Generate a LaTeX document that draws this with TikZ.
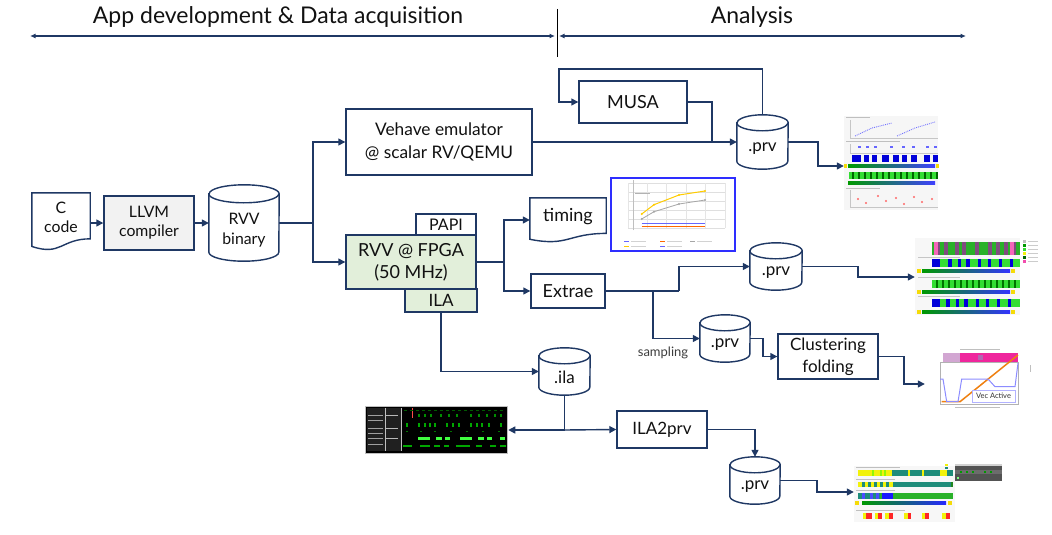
\documentclass[tikz,border=0pt]{standalone}
\usepackage{fontspec}
\setmainfont{Lato}
\usetikzlibrary{arrows.meta,calc}
\definecolor{navy}{HTML}{1F3864}
\definecolor{fpga}{HTML}{E2EFDA}
\definecolor{txt}{HTML}{111111}
\definecolor{lgray}{HTML}{F2F2F2}
\definecolor{samp}{HTML}{3D3D3D}
\definecolor{chartblue}{HTML}{2E2EFF}
\definecolor{tracegreen}{HTML}{33DD33}
\definecolor{teal2}{HTML}{1E8C7A}
\definecolor{ylw}{HTML}{F2F20A}
\tikzset{
  box/.style={draw=navy, line width=1.4pt, fill=white, inner sep=0pt, align=center, text=txt},
  ghost/.style={inner sep=0pt, draw=none},
  lbl/.style={inner sep=0pt, align=center, text=txt},
  wire/.style={draw=navy, line width=1.4pt},
  conn/.style={wire, -{Triangle[length=7pt,width=7pt]}},
  cylline/.style={draw=navy, line width=1.4pt, fill=white},
  harrow/.style={draw=navy, line width=1.2pt, {Latex[length=5.5pt,width=5pt]}-{Latex[length=5.5pt,width=5pt]}},
  tA/.style={font=\fontsize{15.8}{19}\selectfont},
  tB/.style={font=\fontsize{18}{22}\selectfont},
  tC/.style={font=\fontsize{17}{22}\selectfont},
  pic/.style={inner sep=0pt, draw=none},
}
\newcommand\mycyl[3]{%
  \draw[cylline] ([yshift=-#3pt]#1.north west) -- ([yshift=#3pt]#1.south west)
    arc[start angle=180,end angle=360,x radius=#2pt,y radius=#3pt]
    -- ([yshift=-#3pt]#1.north east)
    arc[start angle=0,end angle=180,x radius=#2pt,y radius=#3pt] -- cycle;
  \draw[cylline, fill=none] ([yshift=-#3pt]#1.north west)
    arc[start angle=180,end angle=360,x radius=#2pt,y radius=#3pt];}
\newcommand\mydoc[1]{%
  \draw[cylline] (#1.north west) -- (#1.north east)
    -- ($(#1.north east)!0.802!(#1.south east)$)
    .. controls ($(#1.north)!0.802!(#1.south)$) and ($(#1.north)!1.107!(#1.south)$)
    .. ($(#1.north west)!0.934!(#1.south west)$) -- cycle;}
\begin{document}
\begin{tikzpicture}[x=1pt,y=-1pt]
\useasboundingbox (0,0) rectangle (1052,535);
% ---------------- header
\node[lbl, font=\fontsize{23}{26}\selectfont] (h1) at (278,17) {App development \& Data acquisition};
\node[lbl, font=\fontsize{23}{26}\selectfont] (h2) at (752,17) {Analysis};
\coordinate (a0) at (30,36); \coordinate (a1) at (555,36);
\coordinate (a2) at (559,36); \coordinate (a3) at (966,36);
\draw[harrow] (a0) -- (a1);
\draw[harrow] (a2) -- (a3);
\coordinate (d0) at (557,9); \coordinate (d1) at (557,57);
\draw[black, line width=0.7pt] (d0) -- (d1);
% ---------------- left chain
\node[ghost, minimum width=58pt, minimum height=57pt] (ccode) at (61,221.5) {};
\mydoc{ccode}
\node[lbl, tA] (ccodet) at (61,217) {C\\code};
\node[box, fill=lgray, minimum width=90pt, minimum height=54pt, tA] (llvm) at (149,223) {LLVM\\compiler};
\node[ghost, minimum width=70pt, minimum height=76pt] (rvvbin) at (244,223) {};
\mycyl{rvvbin}{35}{9}
\node[lbl, font=\fontsize{15.8}{20}\selectfont] (rvvbint) at (244,230) {RVV\\binary};
\draw[conn] (ccode.east |- llvm.west) -- (llvm.west);
\draw[conn] (llvm.east) -- (rvvbin.west);
% ---------------- execution
\node[box, minimum width=186pt, minimum height=66pt, font=\fontsize{17.3}{23}\selectfont] (vehave) at (439,142) {Vehave emulator\\@ scalar RV/QEMU};
\node[box, fill=fpga, minimum width=130pt, minimum height=54pt, font=\fontsize{18}{22}\selectfont] (fpga) at (411,262) {RVV @ FPGA\\(50 MHz)};
\node[box, minimum width=60pt, minimum height=21pt, font=\fontsize{16}{18}\selectfont] (papi) at (446,224.5) {PAPI};
\node[box, fill=fpga, minimum width=72pt, minimum height=23pt, font=\fontsize{17}{19}\selectfont] (ilabox) at (441,300.5) {ILA};
\coordinate (b1) at (313,223);
\draw[wire] (rvvbin.east) -- (b1);
\draw[conn] (b1) |- (vehave.west);
\draw[conn] (b1) |- (fpga.west);
% timing / extrae
\node[ghost, minimum width=76pt, minimum height=44pt] (timing) at (568,220) {};
\mydoc{timing}
\node[lbl, tB] (timingt) at (568,217) {timing};
\node[box, minimum width=74pt, minimum height=34pt, tB] (extrae) at (568,291) {Extrae};
\coordinate (b2) at (504,262);
\draw[wire] (fpga.east) -- (b2);
\draw[conn] (b2) |- (timing.west);
\draw[conn] (b2) |- (extrae.west);
% ---------------- MUSA and top prv
\node[box, minimum width=108pt, minimum height=42pt, tB] (musa) at (633,102) {MUSA};
\node[ghost, minimum width=51pt, minimum height=54pt] (prvA) at (762.5,142) {};
\mycyl{prvA}{25.5}{8}
\node[lbl, tC] (prvAt) at (762.5,149) {.prv};
\draw[conn] (vehave.east) -- (prvA.west);
\coordinate (m1) at (712,142);
\draw[wire] (musa.east) -| (m1);
\coordinate (l1) at (559,69);
\draw[conn] (prvA.north) |- (l1) |- (musa.west);
% ---------------- Extrae outputs
\node[ghost, minimum width=52pt, minimum height=47pt] (prvB) at (776,266.5) {};
\mycyl{prvB}{26}{8}
\node[lbl, tC] (prvBt) at (776,273) {.prv};
\node[ghost, minimum width=50pt, minimum height=47pt] (prvC) at (725,338.5) {};
\mycyl{prvC}{25}{8}
\node[lbl, tC] (prvCt) at (725,345) {.prv};
\node[box, minimum width=100pt, minimum height=45pt, font=\fontsize{17}{22}\selectfont] (clust) at (828,356.5) {Clustering\\folding};
\node[lbl, text=samp, font=\fontsize{13}{15}\selectfont] (samp) at (663,353) {sampling};
\coordinate (e1) at (679,291); \coordinate (e2) at (653,291);
\draw[wire] (extrae.east) -- (e1);
\draw[conn] (e1) |- (prvB.west);
\draw[conn] (e2) |- (prvC.west);
\coordinate (c1) at (763,338.5);
\draw[conn] (prvC.east) -- (c1) |- (clust.west);
% ---------------- ILA path
\node[ghost, minimum width=51pt, minimum height=47pt] (ilacyl) at (564.5,371.5) {};
\mycyl{ilacyl}{25.5}{8}
\node[lbl, tC] (ilacylt) at (564.5,377) {.ila};
\node[box, minimum width=90pt, minimum height=37pt, tC] (ila2prv) at (662,429.5) {ILA2prv};
\node[ghost, minimum width=50pt, minimum height=47pt] (prvD) at (755,480.5) {};
\mycyl{prvD}{25}{8}
\node[lbl, tC] (prvDt) at (755,487) {.prv};
\draw[conn] (ilabox.south) |- (ilacyl.west);
\coordinate (i1) at (564.5,430);
\draw[wire] (ilacyl.south) -- (i1);
\draw[conn] (i1) -- (ila2prv.west);
\draw[conn] (ila2prv.east) -| (prvD.north);
% ================= pictures (screenshots)
% chart
\node[pic, draw=chartblue, line width=1.2pt, fill=white, minimum width=124pt, minimum height=73pt] (chart) at (673,214.5) {};
\foreach \yy in {183,192,201,210,219,228} \draw[gray!25, line width=0.4pt] (628,\yy) -- (725,\yy);
\foreach \xx in {628,647,666,686,705,725} \draw[gray!20, line width=0.4pt] (\xx,183) -- (\xx,228);
\draw[orange!40!yellow, line width=1pt] (641.7,214) -- (654,204.7) -- (679,195) -- (705,191);
\foreach \p in {(641.7,214),(654,204.7),(679,195),(705,191)} \fill[orange!40!yellow] \p circle (1.2pt);
\draw[gray!70, line width=0.8pt] (641.7,219) -- (654,211.7) -- (679,204) -- (705,200);
\foreach \p in {(641.7,219),(654,211.7),(679,204),(705,200)} \fill[gray!70] \p circle (1.1pt);
\draw[blue!60, line width=0.8pt] (641.7,223.3) -- (705,223.3);
\draw[orange!80!red, line width=0.8pt] (641.7,226) -- (705,226);
\draw[gray!50, line width=0.5pt] (633,230) -- (633,180);
\foreach \x/\c in {624/blue!60,660/orange!80!red,690/gray!70} {\draw[\c, line width=0.8pt] (\x,241) -- (\x+5,241); \draw[gray!35, line width=0.6pt] (\x+7,241) -- (\x+22,241);}
\foreach \x/\c in {624/orange!40!yellow,660/blue!60} {\draw[\c, line width=0.8pt] (\x,246) -- (\x+5,246); \draw[gray!35, line width=0.6pt] (\x+7,246) -- (\x+22,246);}
\draw[gray!60, line width=0.6pt] (635,193) -- (650,193);
% image 1
\node[pic, fill=gray!7, minimum width=94pt, minimum height=94pt] (img1) at (891,163) {};
\draw[gray!45, line width=0.4pt] (850,120) -- (850,138) -- (938,138);
\draw[gray!50, line width=0.5pt] (846,117.5) -- (870,117.5);
\draw[blue!55, line width=0.9pt, densely dotted] (855,136) -- (872,128) -- (892,123);
\draw[blue!55, line width=0.9pt, densely dotted] (897,136) -- (915,128) -- (935,122);
\draw[gray!50, line width=0.5pt] (846,141.5) -- (900,141.5);
\draw[gray!45, line width=0.4pt] (850,144) -- (850,153) -- (938,153);
\foreach \x in {858,866,874,890,902,912,926,934} \fill[blue!60] (\x,146) rectangle (\x+3,148);
\foreach \a/\b in {852/861,864/869,872/877,882/889,893/899,902/907,911/917,924/930,933/938} \fill[blue!85!black] (\a,155) rectangle (\b,162);
\shade[left color=green!60!black, right color=blue!75] (848,164.5) rectangle (935,167.5);
\fill[ylw!80!orange] (844,164) rectangle (847,168);
\fill[ylw!80!orange] (936,164) rectangle (939,168);
\fill[tracegreen] (849,172) rectangle (938,179);
\foreach \x in {852,858,...,936} \fill[green!40!black] (\x,172) rectangle (\x+1.5,179);
\shade[left color=green!60!black, right color=blue!75] (848,181.5) rectangle (935,184);
\draw[gray!50, line width=0.5pt] (846,188) -- (880,188);
\draw[gray!45, line width=0.4pt] (850,190) -- (850,207) -- (938,207);
\foreach \p in {(858,199),(866,203),(878,196),(886,201),(896,198),(904,204),(914,197),(922,202),(932,199)} \fill[red!60] \p circle (1.2pt);
% image 2
\node[pic, fill=gray!6, minimum width=105pt, minimum height=77pt] (img2) at (967.5,276.5) {};
\fill[tracegreen!80!black] (932,242) rectangle (1020,255);
\foreach \x in {936,944,955,962,975,988,996,1004,1012} \fill[violet!40!gray] (\x,242) rectangle (\x+4,255);
\fill[magenta!60] (934,242) rectangle (938,255);
\fill[magenta!60] (1010,242) rectangle (1014,255);
\foreach \yy/\c in {240/gray!50,244/green!60!black,248/tracegreen,252/ylw,256/green!40!black,260/magenta!70} {\fill[\c] (1023,\yy) rectangle (1026,\yy+2.5); \draw[gray!40, line width=0.5pt] (1028,\yy+1.2) -- (1038,\yy+1.2);}
\draw[gray!45, line width=0.5pt] (918,257) -- (960,257);
\fill[tracegreen] (932,259) rectangle (1020,267);
\foreach \a/\b in {932/940,948/952,958/961,966/970,978/981,988/991,999/1002,1010/1013} \fill[blue!85!black] (\a,259) rectangle (\b,267);
\shade[left color=green!60!black, right color=blue!80] (922,269.5) rectangle (1010,272.5);
\fill[ylw!80!orange] (917,269) rectangle (921,273);
\fill[ylw!80!orange] (1011,269) rectangle (1015,273);
\draw[gray!45, line width=0.5pt] (918,277) -- (960,277);
\fill[tracegreen] (932,280) rectangle (1020,288);
\foreach \x in {936,942,...,1018} \fill[green!45!black] (\x,280) rectangle (\x+2,288);
\shade[left color=green!60!black, right color=blue!80] (922,290.5) rectangle (1010,293.5);
\fill[ylw!80!orange] (917,290) rectangle (921,294);
\fill[ylw!80!orange] (1011,290) rectangle (1015,294);
\draw[gray!45, line width=0.5pt] (918,296) -- (960,296);
\fill[tracegreen] (932,299) rectangle (1020,307);
\foreach \a/\b in {932/940,946/950,956/959,964/968,976/979,986/989,997/1000,1008/1011} \fill[blue!85!black] (\a,299) rectangle (\b,307);
\shade[left color=green!60!black, right color=blue!80] (922,310.5) rectangle (1010,313.5);
\fill[ylw!80!orange] (917,310) rectangle (921,314);
\fill[ylw!80!orange] (1011,310) rectangle (1015,314);
% image 3
\node[pic, fill=white, minimum width=103pt, minimum height=62pt] (img3) at (981.5,379) {};
\draw[gray!50, line width=0.5pt] (960,349.5) -- (1000,349.5);
\fill[violet!35] (942.7,353.3) rectangle (960,361.7);
\fill[magenta!85] (960,353.3) rectangle (1018,361.7);
\fill[violet!60] (978,355) rectangle (983,360);
\draw[gray!60, line width=0.4pt] (940,361.7) rectangle (1018,404);
\draw[orange!75!brown, line width=1.5pt] (941.7,401.7) -- (960,401.7) -- (1018,355);
\draw[blue!45, line width=1pt] (940,379) -- (943,379) -- (946.7,401.7) -- (958,401.7) -- (961.7,379) -- (988,379) -- (995,386.7) -- (1015,386.7) -- (1018,363);
\node[pic, draw=blue!30, fill=white, minimum width=43pt, minimum height=12pt, font=\fontsize{7.5}{8}\selectfont, text=black!80] (vecact) at (993.5,396) {Vec Active};
\draw[gray!50, line width=0.5pt] (955,407) -- (1000,407);
\draw[gray!50, line width=0.5pt] (1030,365) -- (1030,372);
% ILA screenshot
\node[pic, fill=black, draw=gray!50, line width=0.5pt, minimum width=142pt, minimum height=47pt] (imgila) at (436,429.5) {};
\fill[gray!25!black] (367,408) rectangle (401,451);
\foreach \yy in {415,420,428,433,438,444} \draw[gray!75, line width=0.8pt] (368,\yy) -- (383,\yy);
\foreach \yy in {415,428,438} \draw[gray!55, line width=0.6pt] (386,\yy) -- (398,\yy);
\draw[gray!50, line width=0.4pt] (385,408) -- (385,451);
\draw[gray!50, line width=0.4pt] (401,408) -- (401,451);
\draw[red!70, line width=0.4pt] (412,408) -- (412,418);
\foreach \x in {404,410,...,504} \fill[green!35!black] (\x,409.5) rectangle (\x+3,411);
\foreach \x in {418,424,430,440,448,456,470,478,486,494,500} \fill[green!55!black] (\x,414) rectangle (\x+2,416.5);
\foreach \x in {406,418,424,429,434,446,452,458,470,476,481,488,500} \fill[green!65!black] (\x,423) rectangle (\x+2,427);
\foreach \x in {406,420,434,450,466,482,498} \fill[green!45!black] (\x,430.5) rectangle (\x+2,432);
\foreach \a/\b in {418/430,436/442,445/450,460/472,478/484,487/492,500/505} \fill[green!75] (\a,436.5) rectangle (\b,439.5);
\foreach \a/\b in {403/412,420/430,434/440,444/449,456/470,476/482,490/496,500/506} \fill[green!65!black] (\a,444.5) rectangle (\b,446.5);
\coordinate (i2) at (imgila.east |- i1);
\draw[conn] (i1) -- ([xshift=1pt]i2);
% image 4
\node[pic, fill=gray!6, minimum width=101pt, minimum height=56pt] (img4) at (904.5,494) {};
\draw[gray!50, line width=0.5pt] (856,467.5) -- (900,467.5);
\fill[ylw] (858.3,470) rectangle (953.3,476);
\foreach \a/\b in {891.7/908.3,909.5/921.7,924/940,946.7/953.3} \fill[teal2] (\a,470) rectangle (\b,476);
\foreach \x in {872,880,884} \fill[ylw!60!green] (\x,470) rectangle (\x+1.5,476);
\draw[gray!50, line width=0.5pt] (856,479) -- (895,479);
\fill[ylw] (858.3,481.7) rectangle (893,486.7);
\foreach \x in {862,868,874,880,886} \fill[teal2] (\x,481.7) rectangle (\x+2.5,486.7);
\fill[teal2] (893,481.7) rectangle (953.3,486.7);
\fill[tracegreen!60!black] (951,481.7) rectangle (953.3,486.7);
\draw[gray!50, line width=0.5pt] (856,490.5) -- (895,490.5);
\fill[tracegreen!80!black] (858.3,493.3) rectangle (953.3,499.3);
\fill[teal2] (858.3,493.3) rectangle (880,499.3);
\foreach \x in {862,870,876} \fill[blue!70] (\x,493.3) rectangle (\x+3,499.3);
\fill[blue!90] (882,493.3) rectangle (893,499.3);
\shade[left color=green!60!black, right color=blue!85] (862,501.5) rectangle (946,504);
\fill[ylw!80!orange] (855,501) rectangle (859,504.5);
\fill[ylw!80!orange] (948,501) rectangle (952,504.5);
\draw[gray!50, line width=0.5pt] (856,510) -- (905,510);
\foreach \a/\b/\c in {863/866/ylw,866/872/red!85,875/878/ylw,878/882/red!85,885/889/ylw,889/893/red!85,904/908/ylw,908/911/red!85,922/925/ylw,925/929/red!85,942/946/ylw,946/950/red!85} \fill[\c] (\a,513.3) rectangle (\b,519.3);
\fill[ylw] (945,463.5) rectangle (948,465.5);
\fill[teal2] (945,466.5) rectangle (948,468.5);
\node[pic, fill=gray!65!black, minimum width=47pt, minimum height=17pt] (img4b) at (978.5,472.5) {};
\fill[gray!35] (955,464) rectangle (1002,466);
\fill[gray!85!black] (955,470) rectangle (1002,474);
\foreach \x in {960,966,972,984,990} \fill[green!60!black] (\x,470.5) rectangle (\x+2,472.5);
\fill[green!50] (957,477) rectangle (959,479);
% ---------------- arrows to pictures
\coordinate (p1) at (818,142);
\draw[conn] (prvA.east) -- (p1) |- (img1.west |- 0,166);
\coordinate (p2) at (858,266.5);
\draw[conn] (prvB.east) -- (p2) |- (img2.west |- 0,277);
\coordinate (p3) at (904,356.5);
\draw[conn] (clust.east) -- (p3) |- ([xshift=-5pt]img3.west |- 0,384);
\coordinate (p4) at (817,480.5);
\draw[conn] (prvD.east) -- (p4) |- (img4.west |- 0,492);
\end{tikzpicture}
\end{document}
